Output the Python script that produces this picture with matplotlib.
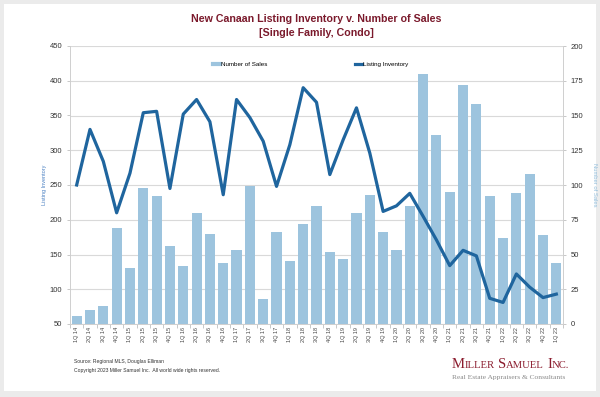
import numpy as np
import matplotlib
matplotlib.use("Agg")
import matplotlib.pyplot as plt
from matplotlib.lines import Line2D
from matplotlib.patches import Rectangle

# data
quarters = ["1Q 14", "2Q 14", "3Q 14", "4Q 14",
            "1Q 15", "2Q 15", "3Q 15", "4Q 15",
            "1Q 16", "2Q 16", "3Q 16", "4Q 16",
            "1Q 17", "2Q 17", "3Q 17", "4Q 17",
            "1Q 18", "2Q 18", "3Q 18", "4Q 18",
            "1Q 19", "2Q 19", "3Q 19", "4Q 19",
            "1Q 20", "2Q 20", "3Q 20", "4Q 20",
            "1Q 21", "2Q 21", "3Q 21", "4Q 21",
            "1Q 22", "2Q 22", "3Q 22", "4Q 22",
            "1Q 23"]

sales = [6, 10, 13, 69,
         40, 98, 92, 56,
         42, 80, 65, 44,
         53, 99, 18, 66,
         45, 72, 85, 52,
         47, 80, 93, 66,
         53, 85, 180, 136,
         95, 172, 158, 92,
         62, 94, 108, 64,
         44]

inventory = [250, 330, 284, 210,
             267, 354, 356, 245,
             352, 373, 341, 236,
             373, 347, 313, 248,
             308, 390, 369, 265,
             315, 361, 296, 212,
             220, 238, 205, 171,
             134, 156, 148, 87,
             81, 122, 103, 88,
             93]

bar_color = "#9dc4de"
line_color = "#1f659e"
title_color = "#7b1a2c"
grid_color = "#d9d9d9"

plt.rcParams['font.family'] = ['Liberation Sans', 'DejaVu Sans']

W, H = 600, 397
fig = plt.figure(figsize=(6, 3.97), dpi=100)
fig.patch.set_facecolor("#ebebeb")
fig.add_artist(Rectangle((4 / W, 1 - 391 / H), 592 / W, 387 / H, transform=fig.transFigure,
                         facecolor="white", edgecolor="none", zorder=-1))

# left axis (line) on top, right axis (bars) below
ax = fig.add_axes([70 / W, 1 - 324 / H, 493 / W, 278 / H])
ax2 = ax.twinx()
ax.set_zorder(2)
ax.patch.set_visible(False)
ax2.set_zorder(1)

x = np.arange(len(quarters))

ax2.bar(x, sales, width=0.76, color=bar_color, zorder=2)
ax2.set_ylim(0, 200)
ax2.set_yticks(range(0, 201, 25))
ax2.set_axisbelow(True)
ax2.grid(axis="y", color=grid_color, lw=0.8)

ax.plot(x, inventory, color=line_color, lw=2.3, zorder=3)
ax.set_ylim(50, 450)
ax.set_yticks(range(50, 451, 50))
ax.set_xlim(-0.5, len(quarters) - 0.5)

ax.set_xticks(x)
ax.set_xticklabels(quarters, rotation=90, fontsize=4, color="#444444")
ax.set_xticks(np.arange(-0.5, len(quarters), 1), minor=True)
ax.tick_params(axis="x", which="major", length=0, pad=2)
ax.tick_params(axis="x", which="minor", length=3, color="#bfbfbf", width=0.6)

ax.tick_params(axis="y", labelsize=5.5, labelcolor="#333333", length=2.5, color="#bfbfbf", width=0.6, pad=3)
ax2.tick_params(axis="y", labelsize=5.5, labelcolor="#333333", length=2.5, color="#bfbfbf", width=0.6, pad=3)

for s in ["top", "right"]:
    ax.spines[s].set_visible(False)
for s in ["top", "left", "bottom"]:
    ax2.spines[s].set_visible(False)
ax.spines["left"].set_color("#cfcfcf")
ax.spines["bottom"].set_color("#cfcfcf")
ax2.spines["right"].set_color("#cfcfcf")
for sp in [ax.spines["left"], ax.spines["bottom"], ax2.spines["right"]]:
    sp.set_linewidth(0.7)

ax.set_ylabel("Listing Inventory", fontsize=4, color="#4a80c2")
ax.yaxis.set_label_coords(-(70 - 47) / 493, 0.5)
ax2.set_ylabel("Number of Sales", fontsize=4.2, color="#8fbcdb", rotation=270, va="center")
ax2.yaxis.set_label_coords((594 - 70) / 493, 0.5)

handles = [Line2D([], [], color=bar_color, lw=3), Line2D([], [], color=line_color, lw=2.3)]
fig.legend(handles, ["Number of Sales", "Listing Inventory"], loc="center",
           bbox_to_anchor=(311 / W, 1 - 64 / H), ncol=2, frameon=False, fontsize=4.5,
           handlelength=1.1, handletextpad=0.2, columnspacing=14)

fig.text(316 / W, 1 - 19 / H, "New Canaan Listing Inventory v. Number of Sales",
         ha="center", va="center", fontsize=7.7, weight="bold", color=title_color)
fig.text(316 / W, 1 - 33 / H, "[Single Family, Condo]",
         ha="center", va="center", fontsize=7.7, weight="bold", color=title_color)

fig.text(74 / W, 1 - 362 / H, "Source: Regional MLS, Douglas Elliman", fontsize=3.6, va="center", color="#333333")
fig.text(74 / W, 1 - 370.5 / H, "Copyright 2023 Miller Samuel Inc.  All world wide rights reserved.",
         fontsize=3.6, va="center", color="#333333")

# logo in small caps, pieced together
renderer = fig.canvas.get_renderer()
pieces = [("M", 10.5), ("ILLER", 7.7), (" ", 0), ("S", 10.5), ("AMUEL", 7.7), (" ", 0), ("I", 10.5), ("NC.", 7.7)]
xpos = 452.0
for txt, size in pieces:
    if txt == " ":
        xpos += 3.0
        continue
    t = fig.text(xpos / W, 1 - 368 / H, txt, fontsize=size, family="Liberation Serif",
                 color="#8b1c2e", va="baseline", ha="left")
    xpos += t.get_window_extent(renderer).width

fig.text(452 / W, 1 - 377.5 / H, "Real Estate Appraisers & Consultants", fontsize=5.4,
         family="Liberation Serif", color="#8a8a8a", va="center")

fig.savefig("out.png", dpi=100, facecolor=fig.get_facecolor())
